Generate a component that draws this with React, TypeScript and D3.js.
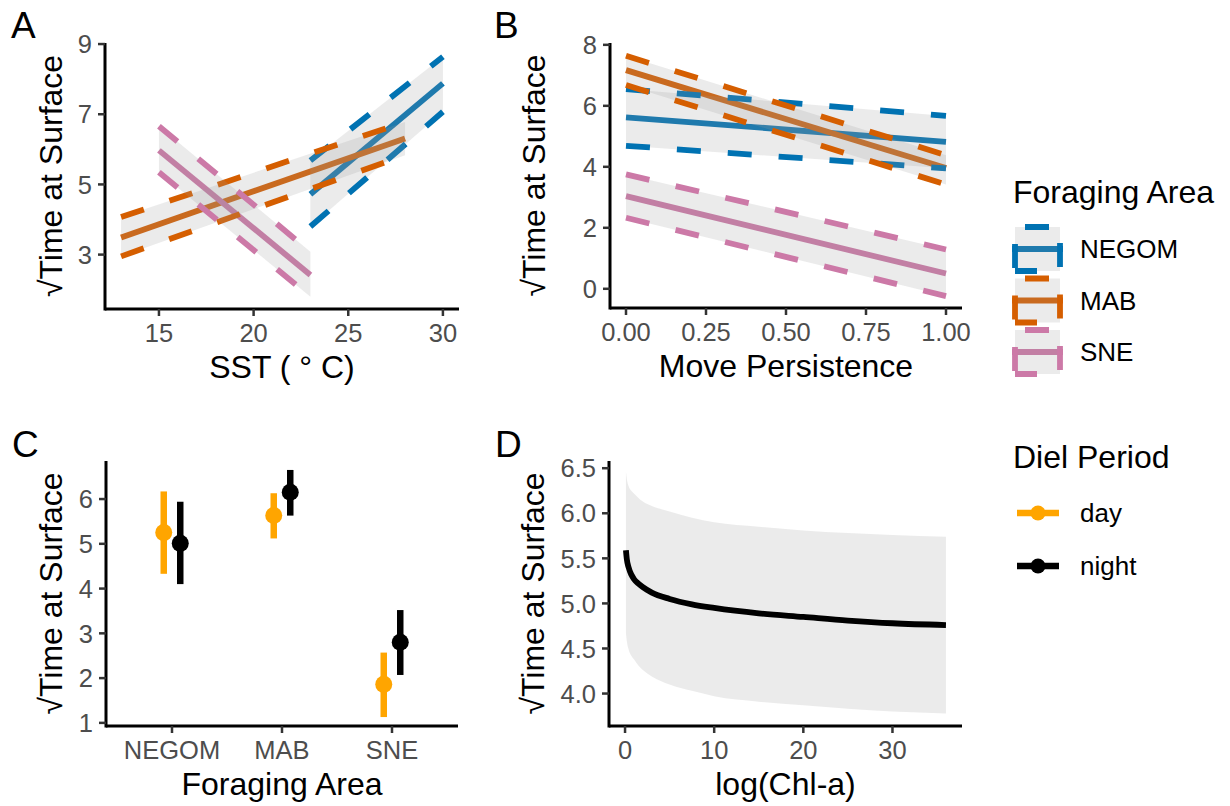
import React from 'react';
import * as d3 from 'd3';

const FONT = "'Liberation Sans', Arial, Helvetica, sans-serif";

// foraging areas (panels A, B and legend)
const areas = ['NEGOM', 'MAB', 'SNE'];
const areaColors = ['#0072B2', '#D55E00', '#CC79A7'];

// panel A: fitted time at surface vs SST, [start, end]
const sstRange = [[23, 30], [13, 28], [15, 23]];
const sstFit = [[4.72, 7.88], [3.49, 6.31], [5.97, 2.42]];
const sstLower = [[3.8, 7.07], [2.95, 5.83], [5.35, 1.8]];
const sstUpper = [[5.68, 8.64], [4.07, 6.78], [6.66, 3.08]];
const sstTicks = [15, 20, 25, 30];
const sstYTicks = [3, 5, 7, 9];

// panel B: vs move persistence
const mpRange = [[0, 1], [0, 1], [0, 1]];
const mpFit = [[5.62, 4.82], [7.17, 3.96], [3.04, 0.5]];
const mpLower = [[4.69, 3.95], [6.68, 3.42], [2.33, -0.24]];
const mpUpper = [[6.55, 5.67], [7.64, 4.38], [3.75, 1.29]];
const mpTicks = [0, 0.25, 0.5, 0.75, 1];
const mpYTicks = [0, 2, 4, 6, 8];

// panel C: diel period by area
const dielPeriods = ['day', 'night'];
const dielColors = ['#FFA500', '#000000'];
const dayMean = [5.25, 5.63, 1.86];
const dayLow = [4.33, 5.12, 1.13];
const dayHigh = [6.17, 6.13, 2.57];
const nightMean = [5.01, 6.15, 2.8];
const nightLow = [4.1, 5.63, 2.07];
const nightHigh = [5.94, 6.65, 3.52];
const cYTicks = [1, 2, 3, 4, 5, 6];

// panel D: log(Chl-a)
const chlX = [0.1, 0.2, 0.4, 0.7, 1, 1.5, 2, 3, 5, 7.5, 10, 15, 20, 25, 30, 36];
const chlFit = [5.59, 5.49, 5.4, 5.32, 5.27, 5.22, 5.18, 5.12, 5.05, 4.99, 4.95, 4.89, 4.85, 4.81, 4.78, 4.76];
const chlLower = [4.67, 4.58, 4.49, 4.42, 4.38, 4.31, 4.26, 4.19, 4.1, 4.03, 3.97, 3.91, 3.87, 3.83, 3.8, 3.78];
const chlUpper = [6.46, 6.38, 6.3, 6.25, 6.22, 6.17, 6.13, 6.08, 6.02, 5.95, 5.9, 5.85, 5.81, 5.78, 5.76, 5.74];
const chlTicks = [0, 10, 20, 30];
const chlYTicks = [4.0, 4.5, 5.0, 5.5, 6.0, 6.5];

const RIBBON = '#999999';
const RIBBON_OP = 0.2;
const DASH = '24 27';
const LW = 5.8;

const Axes = ({ x0, x1, y0, y1, xs, ys, xTicks, xFmt, yTicks, yFmt, xTitle, yTitleX, letter, letterX, letterY }) => (
  <g fontFamily={FONT}>
    <line x1={x0} x2={x1} y1={y1} y2={y1} stroke="#000" strokeWidth={3} />
    <line x1={x0} x2={x0} y1={y0} y2={y1 + 1.5} stroke="#000" strokeWidth={3} />
    {xTicks.map((t, i) => (
      <g key={'x' + i}>
        <line x1={xs(t)} x2={xs(t)} y1={y1} y2={y1 + 7} stroke="#333" strokeWidth={2.5} />
        <text x={xs(t)} y={y1 + 33} textAnchor="middle" fontSize={25.5} fill="#4D4D4D">{xFmt(t)}</text>
      </g>
    ))}
    {yTicks.map((t, i) => (
      <g key={'y' + i}>
        <line x1={x0 - 7} x2={x0} y1={ys(t)} y2={ys(t)} stroke="#333" strokeWidth={2.5} />
        <text x={x0 - 13} y={ys(t)} dy="0.36em" textAnchor="end" fontSize={25.5} fill="#4D4D4D">{yFmt(t)}</text>
      </g>
    ))}
    <text x={(x0 + x1) / 2} y={y1 + 69} textAnchor="middle" fontSize={32}>{xTitle}</text>
    <text transform={`translate(${yTitleX},${(y0 + y1) / 2}) rotate(-90)`} textAnchor="middle" fontSize={32}>√Time at Surface</text>
    <text x={letterX} y={letterY} fontSize={37}>{letter}</text>
  </g>
);

const FitPanel = ({ box, xDomain, yDomain, range, fit, lower, upper, ...rest }) => {
  const xs = d3.scaleLinear().domain(xDomain).range([box.x0, box.x1]);
  const ys = d3.scaleLinear().domain(yDomain).range([box.y1, box.y0]);
  const line = d3.line().x(d => xs(d[0])).y(d => ys(d[1]));
  const area = d3.area().x(d => xs(d[0])).y0(d => ys(d[1])).y1(d => ys(d[2]));
  return (
    <g>
      {areas.map((a, i) => (
        <path key={'f' + a} d={line(range[i].map((x, j) => [x, fit[i][j]]))} stroke={areaColors[i]} strokeWidth={LW} fill="none" />
      ))}
      {areas.map((a, i) => (
        <g key={'r' + a}>
          <path d={area(range[i].map((x, j) => [x, lower[i][j], upper[i][j]]))} fill={RIBBON} fillOpacity={RIBBON_OP} />
          <path d={line(range[i].map((x, j) => [x, upper[i][j]]))} stroke={areaColors[i]} strokeWidth={LW} strokeDasharray={DASH} fill="none" />
          <path d={line(range[i].map((x, j) => [x, lower[i][j]]))} stroke={areaColors[i]} strokeWidth={LW} strokeDasharray={DASH} fill="none" />
        </g>
      ))}
      <Axes {...box} xs={xs} ys={ys} {...rest} />
    </g>
  );
};

const DielPanel = ({ box }) => {
  const xs = d3.scalePoint().domain(areas).range([box.x0, box.x1]).padding(0.6);
  const ys = d3.scaleLinear().domain([0.93, 6.85]).range([box.y1, box.y0]);
  const off = xs.step() * 0.075;
  const series = [
    { mean: dayMean, lo: dayLow, hi: dayHigh, dx: -off, color: dielColors[0] },
    { mean: nightMean, lo: nightLow, hi: nightHigh, dx: off, color: dielColors[1] },
  ];
  return (
    <g>
      {series.map((s, k) => areas.map((a, i) => (
        <g key={k + a}>
          <line x1={xs(a) + s.dx} x2={xs(a) + s.dx} y1={ys(s.lo[i])} y2={ys(s.hi[i])} stroke={s.color} strokeWidth={6.5} />
          <circle cx={xs(a) + s.dx} cy={ys(s.mean[i])} r={8.5} fill={s.color} />
        </g>
      )))}
      <Axes {...box} xs={xs} ys={ys} xTicks={areas} xFmt={d => d} yTicks={cYTicks} yFmt={d => d}
        xTitle="Foraging Area" yTitleX={62} letter="C" letterX={12} letterY={457} />
    </g>
  );
};

const ChlPanel = ({ box }) => {
  const xs = d3.scaleLinear().domain([-1.8, 37.8]).range([box.x0, box.x1]);
  const ys = d3.scaleLinear().domain([3.64, 6.58]).range([box.y1, box.y0]);
  const band = d3.area().x((d, i) => xs(chlX[i])).y0((d, i) => ys(chlLower[i])).y1((d, i) => ys(chlUpper[i])).curve(d3.curveMonotoneX);
  const line = d3.line().x((d, i) => xs(chlX[i])).y(d => ys(d)).curve(d3.curveMonotoneX);
  return (
    <g>
      <path d={band(chlX)} fill={RIBBON} fillOpacity={RIBBON_OP} />
      <path d={line(chlFit)} stroke="#000" strokeWidth={LW} fill="none" />
      <Axes {...box} xs={xs} ys={ys} xTicks={chlTicks} xFmt={d => d} yTicks={chlYTicks} yFmt={d3.format('.1f')}
        xTitle="log(Chl-a)" yTitleX={544} letter="D" letterX={495} letterY={457} />
    </g>
  );
};

const AreaLegend = ({ x, y }) => (
  <g fontFamily={FONT}>
    <text x={x} y={y} fontSize={32}>Foraging Area</text>
    {areas.map((a, i) => {
      const top = y + 24 + i * 51.5;
      const kx0 = x + 2, kx1 = x + 47, ky0 = top, ky1 = top + 44;
      return (
        <g key={a}>
          <line x1={kx0 - 3} x2={kx1 + 3} y1={(ky0 + ky1) / 2} y2={(ky0 + ky1) / 2} stroke={areaColors[i]} strokeWidth={LW} />
          <rect x={kx0} y={ky0} width={kx1 - kx0} height={ky1 - ky0} fill={RIBBON} fillOpacity={RIBBON_OP} />
          <path d={`M${kx0},${ky1}H${kx1}V${ky0}H${kx0}Z`} fill="none" stroke={areaColors[i]} strokeWidth={LW} strokeDasharray={DASH} strokeDashoffset={2} />
          <text x={x + 67} y={(ky0 + ky1) / 2 + 9} fontSize={26}>{a}</text>
        </g>
      );
    })}
  </g>
);

const DielLegend = ({ x, y }) => (
  <g fontFamily={FONT}>
    <text x={x} y={y} fontSize={32}>Diel Period</text>
    {dielPeriods.map((p, i) => {
      const cy = y + 45 + i * 53;
      return (
        <g key={p}>
          <line x1={x + 4} x2={x + 46} y1={cy} y2={cy} stroke={dielColors[i]} strokeWidth={6.5} />
          <circle cx={x + 25} cy={cy} r={7.5} fill={dielColors[i]} />
          <text x={x + 67} y={cy + 9} fontSize={26}>{p}</text>
        </g>
      );
    })}
  </g>
);

export default function App() {
  return (
    <svg width={1230} height={806} style={{ position: 'absolute', left: 0, top: 0, background: '#fff' }}>
      <rect width={1230} height={806} fill="#fff" />
      <FitPanel box={{ x0: 105, x1: 459, y0: 43, y1: 309 }} xDomain={[12.15, 30.85]} yDomain={[1.45, 9.03]}
        range={sstRange} fit={sstFit} lower={sstLower} upper={sstUpper}
        xTicks={sstTicks} xFmt={d => d} yTicks={sstYTicks} yFmt={d => d}
        xTitle="SST ( ° C)" yTitleX={62} letter="A" letterX={11} letterY={38} />
      <FitPanel box={{ x0: 610, x1: 962, y0: 43, y1: 308 }} xDomain={[-0.05, 1.05]} yDomain={[-0.63, 8.06]}
        range={mpRange} fit={mpFit} lower={mpLower} upper={mpUpper}
        xTicks={mpTicks} xFmt={d3.format('.2f')} yTicks={mpYTicks} yFmt={d => d}
        xTitle="Move Persistence" yTitleX={545} letter="B" letterX={494} letterY={38} />
      <DielPanel box={{ x0: 106, x1: 458, y0: 461, y1: 726 }} />
      <ChlPanel box={{ x0: 609, x1: 962, y0: 461, y1: 726 }} />
      <AreaLegend x={1013} y={203} />
      <DielLegend x={1013} y={468} />
    </svg>
  );
}
